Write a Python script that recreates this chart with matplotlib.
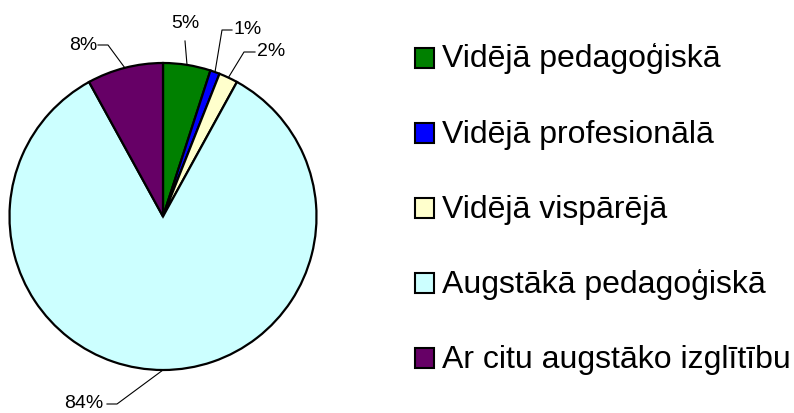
import numpy as np
import matplotlib
matplotlib.use("Agg")
import matplotlib.pyplot as plt
from matplotlib.patches import Rectangle

categories = ["Vidējā pedagoģiskā", "Vidējā profesionālā", "Vidējā vispārējā",
              "Augstākā pedagoģiskā", "Ar citu augstāko izglītību"]
values = [5, 1, 2, 84, 8]
labels = ["5%", "1%", "2%", "84%", "8%"]
colors = ["#008000", "#0000FF", "#FFFFCC", "#CCFFFF", "#660066"]

W, H = 794, 413
fig = plt.figure(figsize=(W / 100, H / 100), dpi=100)
ax = fig.add_axes([0, 0, 1, 1])

def Y(y):
    return H - y

cx, cy, R = 163, 216.5, 153.5
wedges, _ = ax.pie(values, colors=colors, startangle=90, counterclock=False,
                   center=(cx, Y(cy)), radius=R, frame=True,
                   wedgeprops=dict(edgecolor="black", linewidth=1.6))
ax.set_xlim(0, W)
ax.set_ylim(0, H)
ax.set_aspect("equal")
ax.axis("off")

font = "Liberation Sans"
# label positions (pixel, top-left origin): text center, elbow start, elbow end
label_pos = [
    ((185, 23), None, None),
    ((248, 30), (232, 30), (222, 30)),
    ((271, 52), (255, 52), (244, 52)),
    ((84, 404), (107, 404), (117, 404)),
    ((83, 45), (98, 45), (108, 45)),
]
total = sum(values)
cum = 0
for i, v in enumerate(values):
    mid = 90 - 360 * (cum + v / 2) / total
    cum += v
    ex = cx + R * np.cos(np.radians(mid))
    ey = Y(cy) + R * np.sin(np.radians(mid))
    (tx, ty), e1, e2 = label_pos[i]
    ax.text(tx, Y(ty), labels[i], ha="center", va="center", fontsize=14,
            family=font, color="black")
    if e1 is None:
        xs = [tx, ex]
        ys = [Y(ty + 18), ey]
    else:
        xs = [e1[0], e2[0], ex]
        ys = [Y(e1[1]), Y(e2[1]), ey]
    ax.plot(xs, ys, color="black", linewidth=0.8)

# legend
base0, dy = 67.5, 75.1
for i, (c, name) in enumerate(zip(colors, categories)):
    yb = base0 + i * dy
    ax.add_patch(Rectangle((414.5, Y(yb)), 19.5, 19.5, facecolor=c,
                           edgecolor="black", linewidth=1.5))
    ax.text(442, Y(yb), name, ha="left", va="baseline", fontsize=23,
            family=font, color="black")

fig.savefig("out.png", dpi=100)
